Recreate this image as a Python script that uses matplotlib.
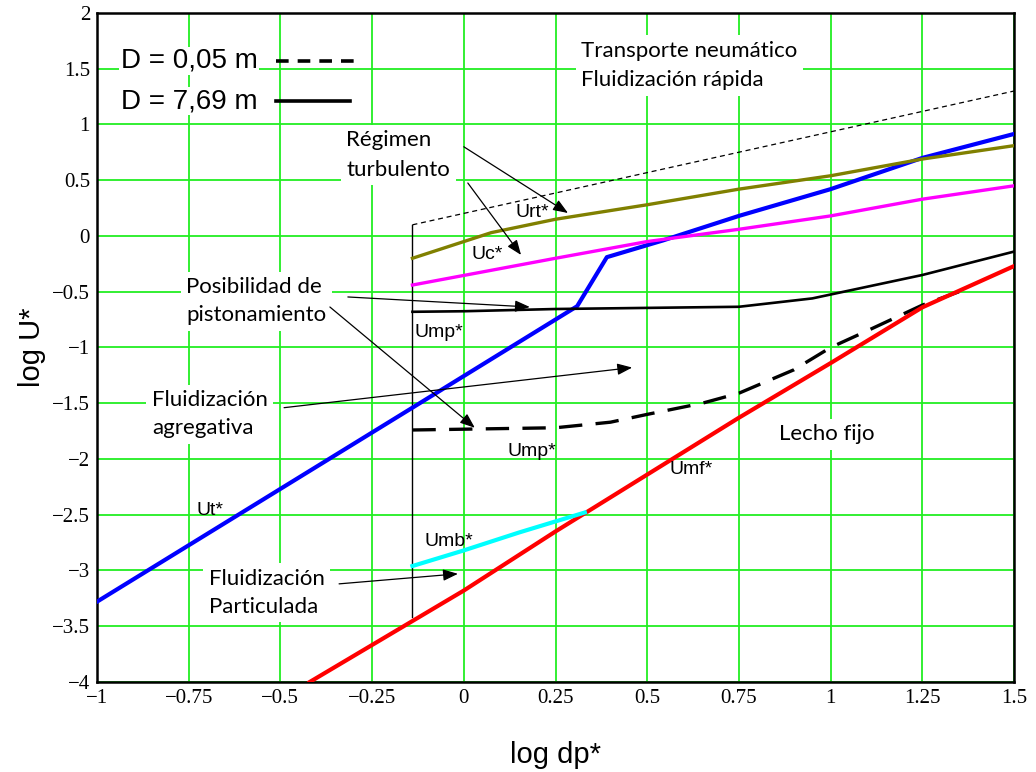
import numpy as np
import matplotlib.pyplot as plt

# curves (log dp*, log U*)
ut_x = [-1.0, -0.14, 0.309, 0.39, 0.543, 0.75, 1.0, 1.25, 1.5]
ut_y = [-3.28, -1.54, -0.63, -0.19, -0.04, 0.18, 0.42, 0.70, 0.915]

urt_x = [-0.14, 0.075, 0.25, 0.5, 0.75, 1.0, 1.25, 1.5]
urt_y = [-0.20, 0.03, 0.15, 0.28, 0.42, 0.54, 0.69, 0.81]

uc_x = [-0.14, 0.25, 0.5, 0.75, 1.0, 1.25, 1.5]
uc_y = [-0.44, -0.20, -0.05, 0.06, 0.18, 0.33, 0.45]

ump_big_x = [-0.14, 0.0, 0.25, 0.5, 0.75, 0.95, 1.25, 1.5]
ump_big_y = [-0.68, -0.675, -0.655, -0.645, -0.635, -0.56, -0.35, -0.14]

ump_small_x = [-0.14, 0.25, 0.4, 0.5, 0.65, 0.75, 0.9, 1.0, 1.1, 1.25, 1.35]
ump_small_y = [-1.74, -1.72, -1.67, -1.60, -1.50, -1.41, -1.20, -1.00, -0.85, -0.62, -0.50]

umf_x = [-0.42, 0.0, 0.25, 0.5, 0.75, 1.0, 1.25, 1.5]
umf_y = [-4.0, -3.18, -2.65, -2.14, -1.63, -1.14, -0.64, -0.27]

umb_x = [-0.14, 0.0, 0.15, 0.33]
umb_y = [-2.96, -2.82, -2.66, -2.48]

# boundaries of the diagram
top_x = [-0.14, 1.5]
top_y = [0.10, 1.30]
vline_x = [-0.14, -0.14]
vline_y = [0.10, -3.42]

x_ticks = np.arange(-1.0, 1.51, 0.25)
y_ticks = np.arange(-4.0, 2.01, 0.5)

fig = plt.figure(figsize=(10.36, 7.72), dpi=100)
ax = fig.add_axes([0.0936, 0.1166, 0.8852, 0.8666])

ax.set_xlim(-1, 1.5)
ax.set_ylim(-4, 2)
ax.set_xticks(x_ticks)
ax.set_yticks(y_ticks)
ax.set_xticklabels([f"{v:g}".replace("-", "\u2212") for v in x_ticks])
ax.set_yticklabels([f"{v:g}".replace("-", "\u2212") for v in y_ticks])
ax.tick_params(length=0, pad=5, labelsize=15)
for lab in ax.get_xticklabels() + ax.get_yticklabels():
    lab.set_fontfamily("Liberation Serif")
ax.grid(True, color="#22ee22", lw=1.3, zorder=0)
ax.set_axisbelow(True)
for s in ax.spines.values():
    s.set_linewidth(1.8)

ax.plot(top_x, top_y, color="black", lw=0.9, ls=(0, (4, 3)), zorder=3)
ax.plot(vline_x, vline_y, color="black", lw=1.0, zorder=3)

ax.plot(ut_x, ut_y, color="#0000ff", lw=3.0, zorder=4)
ax.plot(urt_x, urt_y, color="#808000", lw=2.4, zorder=4)
ax.plot(uc_x, uc_y, color="#ff00ff", lw=2.4, zorder=4)
ax.plot(ump_big_x, ump_big_y, color="black", lw=1.9, zorder=4)
ax.plot(ump_small_x, ump_small_y, color="black", lw=2.4, ls=(0, (7, 4)), zorder=4)
ax.plot(umf_x, umf_y, color="#ff0000", lw=3.0, zorder=4)
ax.plot(umb_x, umb_y, color="#00ffff", lw=3.0, zorder=4)

# legend drawn as text + line samples
ax.text(-0.935, 1.57, "D = 0,05 m", fontsize=20, family="Liberation Sans", va="center", zorder=5,
        bbox=dict(fc="white", ec="none", pad=1))
ax.text(-0.935, 1.21, "D = 7,69 m", fontsize=20, family="Liberation Sans", va="center", zorder=5,
        bbox=dict(fc="white", ec="none", pad=1))
ax.plot([-0.513, -0.29], [1.57, 1.57], color="black", lw=2.6, ls=(0, (3.5, 2.5)), zorder=5)
ax.plot([-0.513, -0.31], [1.21, 1.21], color="black", lw=2.6, zorder=5)

box = dict(fc="white", ec="none", pad=4)
cal = "Lato"
fs = 16
ax.text(0.32, 1.53, "Transporte neumático\nFluidización rápida", fontsize=fs, family=cal,
        va="center", linespacing=1.6, zorder=5, bbox=box)
ax.text(-0.32, 0.727, "Régimen\nturbulento", fontsize=fs, family=cal, va="center",
        linespacing=1.6, zorder=5, bbox=box)
ax.text(-0.757, -0.585, "Posibilidad de\npistonamiento", fontsize=fs, family=cal, va="center",
        linespacing=1.5, zorder=5, bbox=box)
ax.text(-0.85, -1.60, "Fluidización\nagregativa", fontsize=fs, family=cal, va="center",
        linespacing=1.5, zorder=5, bbox=box)
ax.text(-0.695, -3.20, "Fluidización\nParticulada", fontsize=fs, family=cal, va="center",
        linespacing=1.5, zorder=5, bbox=box)
ax.text(0.86, -1.78, "Lecho fijo", fontsize=fs, family=cal, va="center", zorder=5, bbox=box)

arrow = dict(arrowstyle="-|>,head_length=0.9,head_width=0.35", color="black", lw=0.9,
             shrinkA=0, shrinkB=0)
arrows = [
    ((0.0, 0.80), (0.284, 0.206)),
    ((0.011, 0.475), (0.156, -0.17)),
    ((-0.316, -0.547), (0.18, -0.637)),
    ((-0.365, -0.637), (0.03, -1.72)),
    ((-0.49, -1.54), (0.459, -1.18)),
    ((-0.34, -3.12), (-0.016, -3.03)),
]
for start, end in arrows:
    ax.annotate("", xy=end, xytext=start, arrowprops=arrow, zorder=6)

lab = dict(fontsize=14, family="Liberation Sans", va="center", zorder=6)
ax.text(0.14, 0.21, "Urt*", **lab)
ax.text(0.02, -0.17, "Uc*", **lab)
ax.text(-0.135, -0.87, "Ump*", **lab)
ax.text(0.118, -1.93, "Ump*", **lab)
ax.text(0.562, -2.09, "Umf*", **lab)
ax.text(-0.73, -2.46, "Ut*", **lab)
ax.text(-0.108, -2.74, "Umb*", **lab)

ax.set_xlabel("log dp*", fontsize=21, family="Liberation Sans", labelpad=24)
ax.set_ylabel("log U*", fontsize=21, family="Liberation Sans", labelpad=4)

fig.savefig("out.png", dpi=100)
